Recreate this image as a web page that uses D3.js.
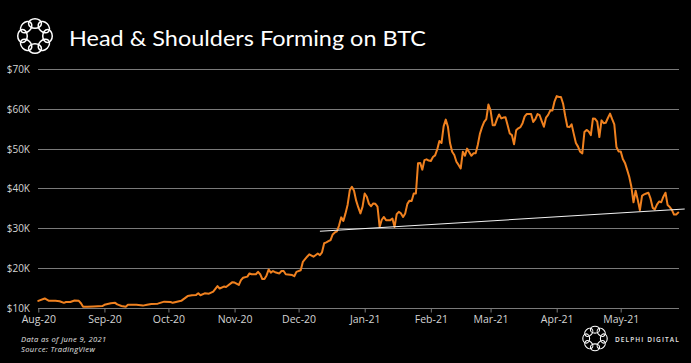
<!DOCTYPE html>
<html><head><meta charset="utf-8">
<script src="https://cdn.jsdelivr.net/npm/d3@7"></script>
<style>html,body{margin:0;padding:0;background:#000;} svg{display:block;}</style>
</head><body>
<svg id="c" width="691" height="363"></svg>
<script>
// ---- data (day offsets from 2020-08-01, BTC price in $K) ----
const startDate = Date.UTC(2020, 7, 1);
const dayOffsets = [0,3,5,8,10,12,13,15,17,19,20,21,23,26,30,31,34,36,37,39,41,42,44,46,49,51,53,56,59,62,63,66,67,70,72,74,75,76,78,80,82,84,85,87,88,91,92,94,95,96,98,99,100,102,103,104,105,106,107,108,109,110,111,113,114,115,116,119,120,121,123,124,126,127,129,131,132,133,134,
135,136,137,138,139,140,141,142,143,144,145,146,147,148,149,150,151,152,153,154,155,156,157,158,159,160,161,162,163,164,165,166,167,168,169,170,171,172,173,174,175,176,177,178,179,180,181,182,183,184,185,186,187,188,189,190,191,192,193,194,195,196,197,198,199,200,201,202,203,204,205,206,207,208,209,210,211,212,213,214,215,216,217,218,219,220,221,222,223,224,225,226,227,228,229,230,231,232,233,234,235,236,237,238,239,240,241,242,243,244,245,246,247,248,249,250,251,252,253,254,255,256,257,258,259,260,261,262,263,264,265,266,267,268,269,270,271,272,273,274,275,276,277,278,279,280,281,282,283,284,285,286,287,288,289,290,291,292,293,294,295,296,297,298,299,300];
const prices = [11.8,12.4,11.8,11.8,11.7,11.3,11.5,11.5,11.9,11.8,11.2,10.3,10.3,10.4,10.5,10.8,11.2,11.3,10.9,10.5,10.3,10.8,10.8,10.8,10.6,10.8,11.0,11.1,11.6,11.5,11.3,11.7,11.8,13.0,13.2,13.3,13.7,13.2,13.7,13.6,14.1,15.5,14.9,15.4,15.3,16.5,16.4,15.8,17.0,17.6,17.9,18.7,18.5,18.5,19.1,18.5,17.3,17.3,18.2,19.7,18.9,19.3,19.0,18.7,19.3,19.3,18.5,18.3,18.0,19.1,19.5,21.6,22.9,23.5,22.9,23.7,23.3,24.0,26.3,
26.5,26.8,27.1,28.5,29.0,29.3,30.8,32.8,31.9,33.8,36.0,39.6,40.5,39.5,37.0,35.3,33.8,35.5,38.8,38.0,36.2,35.6,36.3,36.2,35.5,30.4,32.2,32.9,32.1,32.1,32.1,32.5,30.4,33.6,34.2,33.8,32.9,33.8,36.2,37.0,36.9,38.8,38.8,46.4,46.5,44.8,47.2,47.4,47.1,47.0,48.0,48.4,49.9,52.0,51.5,55.7,57.4,55.6,51.5,49.3,48.5,46.8,46.0,45.1,49.3,48.3,50.1,49.2,48.3,48.9,48.9,51.0,53.8,55.5,56.8,57.5,61.2,59.7,56.0,56.0,57.5,58.7,57.7,57.9,58.0,56.0,53.9,53.5,51.2,54.7,55.2,55.5,56.5,58.2,58.8,58.8,58.8,56.8,57.5,58.8,58.5,57.0,55.6,57.9,58.6,59.7,59.7,62.0,63.3,63.1,63.1,61.4,58.3,55.6,55.5,56.2,53.8,51.5,50.6,49.3,48.9,54.3,54.8,54.4,53.5,57.7,57.6,56.9,53.0,57.2,56.5,56.6,57.8,58.9,57.5,56.2,50.5,49.4,49.4,47.5,46.5,44.8,43.0,40.5,36.6,39.5,37.2,34.6,38.2,38.6,38.8,39.0,37.5,35.2,34.8,36.0,36.8,36.6,38.0,39.0,35.9,35.4,34.7,33.5,33.5,34.0];
const trendDays = [132, 303];
const trendPrices = [29.3, 34.9];
const yTicks = [10, 20, 30, 40, 50, 60, 70];
const yTickLabels = ["$10K","$20K","$30K","$40K","$50K","$60K","$70K"];
const xTickMonths = ["2020-08-01","2020-09-01","2020-10-01","2020-11-01","2020-12-01","2021-01-01","2021-02-01","2021-03-01","2021-04-01","2021-05-01"];
const xTickLabels = ["Aug-20","Sep-20","Oct-20","Nov-20","Dec-20","Jan-21","Feb-21","Mar-21","Apr-21","May-21"];
const titleText = "Head & Shoulders Forming on BTC";
const noteLines = ["Data as of June 9, 2021", "Source: TradingView"];
const brandText = "DELPHI DIGITAL";

// ---- drawing ----
const svg = d3.select("#c");
svg.append("rect").attr("width", 691).attr("height", 363).attr("fill", "#000");
const toDate = d => d3.utcDay.offset(new Date(startDate), d);
const x = d3.scaleUtc().domain([toDate(0), toDate(300)]).range([38.3, 678.3]);
const y = d3.scaleLinear().domain([10, 70]).range([308, 69.5]);
const crisp = v => Math.floor(v) + 0.5;

// gridlines
svg.append("g").selectAll("line").data(yTicks).join("line")
  .attr("x1", 38).attr("x2", 679)
  .attr("y1", d => crisp(y(d))).attr("y2", d => crisp(y(d)))
  .attr("stroke", "#7a7a7a").attr("stroke-width", 1);

// y labels
svg.append("g").selectAll("text").data(yTicks).join("text")
  .attr("x", 30).attr("y", d => y(d)).attr("dy", "0.35em")
  .attr("text-anchor", "end")
  .attr("font-family", "Open Sans, sans-serif").attr("font-size", 10)
  .attr("fill", "#d4d4d4")
  .text((d, i) => yTickLabels[i]);

// x axis
const monthDates = xTickMonths.map(s => new Date(s + "T00:00:00Z"));
const xAxis = d3.axisBottom(x).tickValues(monthDates)
  .tickFormat((d, i) => xTickLabels[i]).tickSize(4).tickSizeOuter(0).tickPadding(3);
const gx = svg.append("g").attr("transform", `translate(0,${crisp(y(10))})`).call(xAxis);
gx.select(".domain").remove();
gx.selectAll(".tick line").attr("stroke", "#7a7a7a");
gx.selectAll(".tick text").attr("font-family", "Open Sans, sans-serif")
  .attr("font-size", 10.5).attr("fill", "#d4d4d4");

// price line
const data = dayOffsets.map((d, i) => ({date: toDate(d), value: prices[i]}));
const line = d3.line().x(d => x(d.date)).y(d => y(d.value));
svg.append("path").datum(data).attr("d", line)
  .attr("fill", "none").attr("stroke", "#F0811F").attr("stroke-width", 2)
  .attr("stroke-linejoin", "round").attr("stroke-linecap", "round");

// trend line
const trend = trendDays.map((d, i) => ({date: toDate(d), value: trendPrices[i]}));
svg.append("path").datum(trend).attr("d", line)
  .attr("fill", "none").attr("stroke", "#f2f2f2").attr("stroke-width", 1.1);

// title
svg.append("text").attr("x", 69).attr("y", 46)
  .attr("font-family", "Lato, Open Sans, sans-serif").attr("font-size", 21)
  .attr("fill", "#fff").attr("textLength", 357).attr("lengthAdjust", "spacingAndGlyphs")
  .text(titleText);

// logos
function logo(cx, cy, R, r, sw) {
  const g = svg.append("g").attr("transform", `translate(${cx},${cy})`);
  d3.range(8).forEach(k => {
    const a = k * Math.PI / 4 - Math.PI / 2;
    g.append("ellipse")
      .attr("transform", `rotate(${a * 180 / Math.PI + 90}) translate(0,${-R})`)
      .attr("rx", r * 1.15).attr("ry", r * 0.85)
      .attr("fill", "none").attr("stroke", "#fff").attr("stroke-width", sw);
  });
}
logo(35, 36, 12.5, 5.6, 1.5);
logo(595, 338.5, 8.8, 4.0, 1.1);

svg.append("text").attr("x", 615).attr("y", 341.5)
  .attr("font-family", "Open Sans, sans-serif").attr("font-size", 6.5)
  .attr("font-weight", 600).attr("letter-spacing", 1.1).attr("fill", "#e6e6e6")
  .text(brandText);

// notes
svg.append("g").selectAll("text").data(noteLines).join("text")
  .attr("x", 21).attr("y", (d, i) => 342 + i * 10)
  .attr("font-family", "Open Sans, sans-serif").attr("font-size", 7.6)
  .attr("letter-spacing", 0.35)
  .attr("font-style", "italic").attr("fill", "#e0e0e0")
  .text(d => d);
</script>
</body></html>
